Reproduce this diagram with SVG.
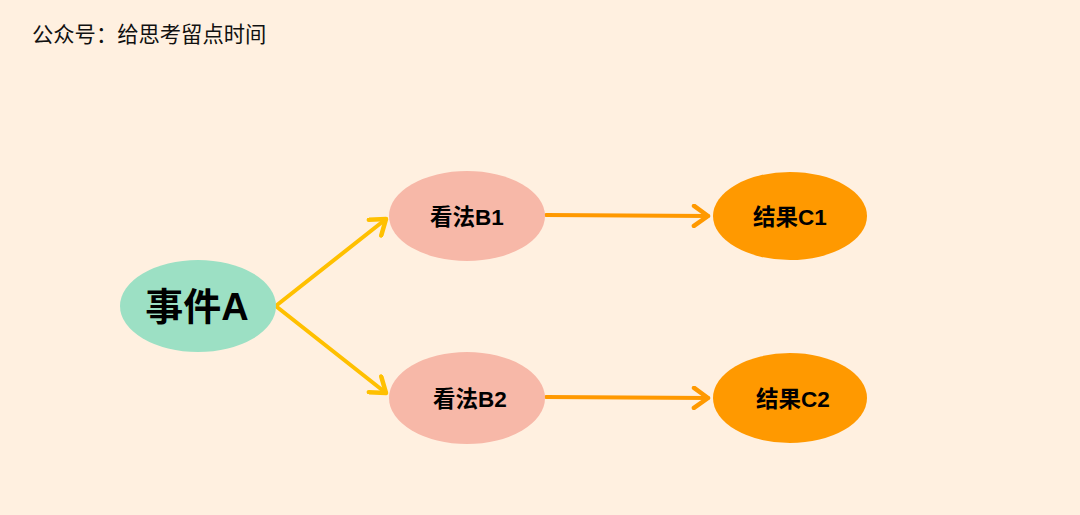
<svg xmlns="http://www.w3.org/2000/svg" width="1080" height="515" viewBox="0 0 1080 515">
<style>
.t{font-family:"Liberation Sans","Noto Sans CJK SC",sans-serif;font-weight:bold;fill:#000;text-anchor:middle;dominant-baseline:central}
.y{stroke:#FFC000;stroke-width:4;fill:none;stroke-linecap:round}
.o{stroke:#FF9900;stroke-width:4;fill:none;stroke-linecap:round}
</style>
<defs>
<marker id="my" viewBox="-18 -12 22 24" markerWidth="22" markerHeight="24" refX="0" refY="0" orient="auto" markerUnits="userSpaceOnUse">
<polyline points="-14,-10 0,0 -14,10" fill="none" stroke="#FFC000" stroke-width="4.5" stroke-linecap="round" stroke-linejoin="round"/>
</marker>
<marker id="mo" viewBox="-18 -12 22 24" markerWidth="22" markerHeight="24" refX="0" refY="0" orient="auto" markerUnits="userSpaceOnUse">
<polyline points="-14,-10 0,0 -14,10" fill="none" stroke="#FF9900" stroke-width="4.5" stroke-linecap="round" stroke-linejoin="round"/>
</marker>
</defs>
<rect width="1080" height="515" fill="#FFF0E0"/>
<text x="32" y="42" font-family="'Liberation Sans','Noto Sans CJK SC',sans-serif" font-size="21.3" fill="#111">公众号：给思考留点时间</text>
<g id="connectors">
<line class="y" x1="277" y1="305" x2="386" y2="219" marker-end="url(#my)"/>
<line class="y" x1="277" y1="307" x2="386" y2="393" marker-end="url(#my)"/>
<line class="o" x1="546" y1="215" x2="708" y2="216" marker-end="url(#mo)"/>
<line class="o" x1="546" y1="397" x2="708" y2="398" marker-end="url(#mo)"/>
</g>
<g id="nodeA">
<ellipse cx="198" cy="306" rx="78" ry="46" fill="#9CE0C4"/>
<text class="t" x="197" y="307" font-size="38">事件A</text>
</g>
<g id="nodeB1">
<ellipse cx="467" cy="216" rx="78" ry="45" fill="#F7B8A8"/>
<text class="t" x="467" y="217" font-size="22.5">看法B1</text>
</g>
<g id="nodeB2">
<ellipse cx="467" cy="398" rx="78" ry="46" fill="#F7B8A8"/>
<text class="t" x="470" y="399" font-size="22.5">看法B2</text>
</g>
<g id="nodeC1">
<ellipse cx="790" cy="216" rx="77" ry="44" fill="#FF9900"/>
<text class="t" x="790" y="217" font-size="22.5">结果C1</text>
</g>
<g id="nodeC2">
<ellipse cx="790" cy="398" rx="77" ry="45" fill="#FF9900"/>
<text class="t" x="793" y="399" font-size="22.5">结果C2</text>
</g>
</svg>
